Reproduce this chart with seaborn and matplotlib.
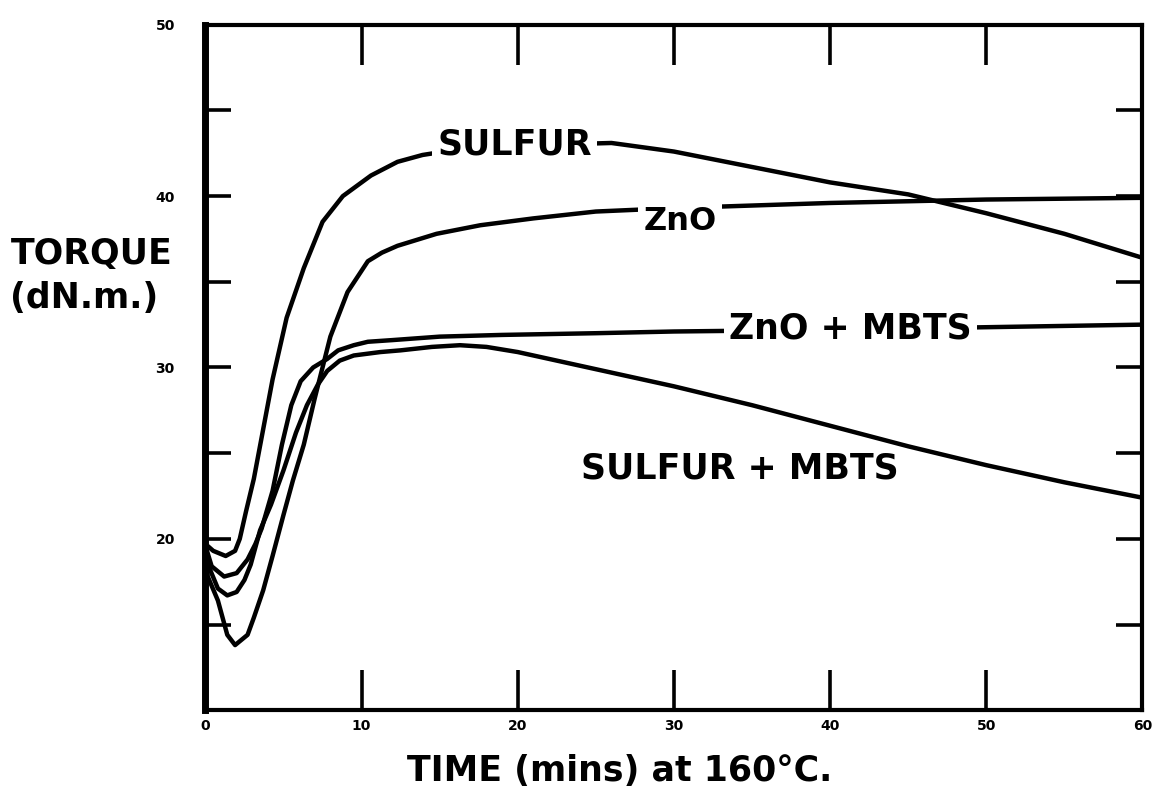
import pandas as pd
import seaborn as sns
import matplotlib.pyplot as plt

# cure curves (time in mins, torque in dN.m.)
sulfur_t = [0, 0.5, 1.3, 1.9, 2.2, 2.6, 3.1, 3.7, 4.3, 5.2, 6.3, 7.5, 8.8, 10.6,
            12.3, 13.9, 16, 20, 26, 30, 35, 40, 45, 50, 55, 60]
sulfur_v = [19.7, 19.3, 19.0, 19.3, 20.0, 21.6, 23.5, 26.4, 29.3, 32.9, 35.8, 38.5,
            40.0, 41.2, 42.0, 42.4, 42.7, 42.95, 43.1, 42.6, 41.7, 40.8, 40.1, 39.0,
            37.8, 36.4]

zno_t = [0, 0.15, 0.8, 1.4, 1.9, 2.7, 3.1, 3.7, 4.3, 5.0, 5.6, 6.3, 7.0, 8.0, 9.1,
         10.4, 11.3, 12.3, 14.8, 17.6, 21, 25, 30, 35, 40, 45, 50, 60]
zno_v = [19.6, 17.8, 16.4, 14.4, 13.8, 14.4, 15.4, 17.0, 19.0, 21.4, 23.4, 25.5,
         28.2, 31.8, 34.4, 36.2, 36.7, 37.1, 37.8, 38.3, 38.7, 39.1, 39.3, 39.45,
         39.6, 39.7, 39.8, 39.9]

zno_mbts_t = [0, 0.4, 1.2, 2.0, 2.7, 3.2, 3.6, 4.3, 4.9, 5.5, 6.1, 6.9, 7.8, 8.5,
              9.5, 10.4, 12, 15, 19, 25, 30, 40, 50, 60]
zno_mbts_v = [19.6, 18.4, 17.8, 18.0, 18.8, 19.7, 20.6, 22.8, 25.5, 27.8, 29.2,
              30.0, 30.5, 31.0, 31.3, 31.5, 31.6, 31.8, 31.9, 32.0, 32.1, 32.2,
              32.35, 32.5]

sulfur_mbts_t = [0, 0.3, 0.8, 1.4, 2.0, 2.5, 2.9, 3.5, 4.2, 5.0, 5.8, 6.5, 7.2, 7.8,
                 8.6, 9.5, 11.2, 12.5, 14.5, 16.3, 18, 20, 25, 30, 35, 40, 45, 50,
                 55, 60]
sulfur_mbts_v = [19.6, 18.2, 17.1, 16.7, 16.9, 17.6, 18.5, 20.5, 22.0, 24.0, 26.2,
                 27.8, 29.0, 29.8, 30.4, 30.7, 30.9, 31.0, 31.2, 31.3, 31.2, 30.9,
                 29.9, 28.9, 27.8, 26.6, 25.4, 24.3, 23.3, 22.4]

names = ['SULFUR', 'ZnO', 'ZnO + MBTS', 'SULFUR + MBTS']
series = [(sulfur_t, sulfur_v), (zno_t, zno_v), (zno_mbts_t, zno_mbts_v),
          (sulfur_mbts_t, sulfur_mbts_v)]

# where the curve names sit (time, torque); the first three break their line
label_t = [19.8, 30.4, 41.3, 34.2]
label_v = [43.0, 38.5, 32.3, 24.1]
label_size = [25, 23, 25, 25]
label_breaks_line = [True, True, True, False]

x_ticks = [0, 10, 20, 30, 40, 50, 60]
y_ticks = [20, 30, 40, 50]
y_minor = [15, 25, 35, 45]

frames = []
for name, (t, v) in zip(names, series):
    frames.append(pd.DataFrame({'time': t, 'torque': v, 'compound': name}))
df = pd.concat(frames, ignore_index=True)

sns.set_style('white')
plt.rcParams['font.family'] = ['DejaVu Sans']
plt.rcParams['text.color'] = 'black'
plt.rcParams['xtick.color'] = 'black'
plt.rcParams['ytick.color'] = 'black'
plt.rcParams['axes.labelcolor'] = 'black'

fig = plt.figure(figsize=(11.54, 7.98), dpi=100)
ax = fig.add_axes([0.178, 0.110, 0.812, 0.859])

sns.lineplot(data=df, x='time', y='torque', hue='compound',
             palette={n: 'black' for n in names}, estimator=None, sort=False,
             legend=False, lw=3.2, ax=ax)
for line in ax.lines:
    line.set_solid_capstyle('round')
    line.set_solid_joinstyle('round')

ax.set_xlim(0, 60)
ax.set_ylim(10, 50)
ax.set_xticks(x_ticks)
ax.set_xticklabels([str(x) for x in x_ticks])
ax.set_yticks(y_ticks)
ax.set_yticklabels([str(y) for y in y_ticks])
ax.set_yticks(y_minor, minor=True)
ax.tick_params(axis='x', which='major', direction='in', length=29, width=2.6,
               top=True, bottom=True, pad=6, labelsize=10, color='black',
               labelcolor='black')
ax.tick_params(axis='y', which='both', direction='in', length=19, width=2.6,
               left=True, right=True, pad=22, labelsize=10, color='black',
               labelcolor='black')
for lbl in ax.get_xticklabels() + ax.get_yticklabels():
    lbl.set_fontweight('bold')

for side, spine in ax.spines.items():
    spine.set_visible(True)
    spine.set_color('black')
    spine.set_linewidth(5 if side == 'left' else 3)

ax.set_xlabel('')
ax.set_ylabel('')

for name, t, v, fs, brk in zip(names, label_t, label_v, label_size, label_breaks_line):
    box = dict(facecolor='white', edgecolor='none', pad=4) if brk else None
    ax.text(t, v, name, ha='center', va='center', fontsize=fs, fontweight='bold',
            color='black', bbox=box, zorder=5)

fig.text(0.009, 0.682, 'TORQUE', fontsize=25, fontweight='bold', ha='left', va='center')
fig.text(0.009, 0.627, '(dN.m.)', fontsize=25, fontweight='bold', ha='left', va='center')
fig.text(0.537, 0.034, 'TIME (mins) at 160\u00b0C.', fontsize=25, fontweight='bold',
         ha='center', va='center')

fig.savefig('out.png', dpi=100)
